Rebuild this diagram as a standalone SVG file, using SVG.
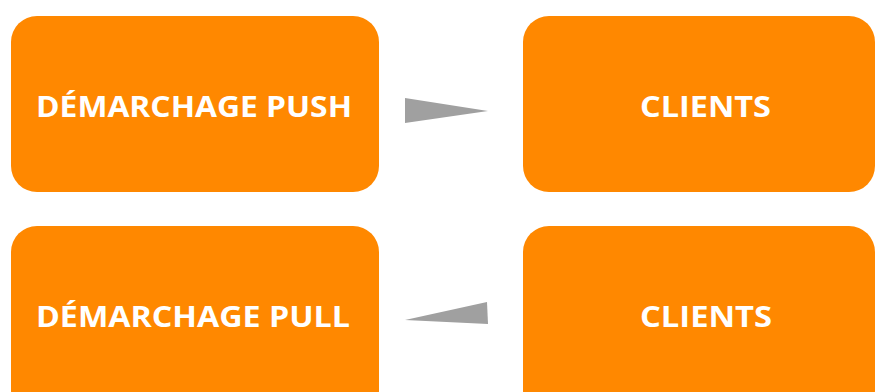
<svg xmlns="http://www.w3.org/2000/svg" width="877" height="392" viewBox="0 0 877 392">
<style>
.box{fill:#FF8800}
.lbl{fill:#FFFFFF;font-family:"Open Sans","Liberation Sans",sans-serif;font-weight:bold;font-size:29px}
.arr{fill:#A0A0A0}
</style>
<rect width="877" height="392" fill="#FFFFFF"/>
<g id="push">
<rect class="box" x="11" y="16" width="368" height="176" rx="26" ry="26"/>
<text class="lbl" x="36" y="117" textLength="316" lengthAdjust="spacingAndGlyphs">DÉMARCHAGE PUSH</text>
</g>
<g id="clients1">
<rect class="box" x="523" y="16" width="352" height="176" rx="26" ry="26"/>
<text class="lbl" x="640" y="117" textLength="131" lengthAdjust="spacingAndGlyphs">CLIENTS</text>
</g>
<g id="pull">
<rect class="box" x="11" y="226" width="368" height="190" rx="26" ry="26"/>
<text class="lbl" x="36" y="327" textLength="314" lengthAdjust="spacingAndGlyphs">DÉMARCHAGE PULL</text>
</g>
<g id="clients2">
<rect class="box" x="523" y="226" width="352" height="190" rx="26" ry="26"/>
<text class="lbl" x="640" y="327" textLength="132" lengthAdjust="spacingAndGlyphs">CLIENTS</text>
</g>
<g id="connectors">
<polygon class="arr" points="405,98 488,111 405,123"/>
<polygon class="arr" points="487,302 488,324 405,320"/>
</g>
</svg>
